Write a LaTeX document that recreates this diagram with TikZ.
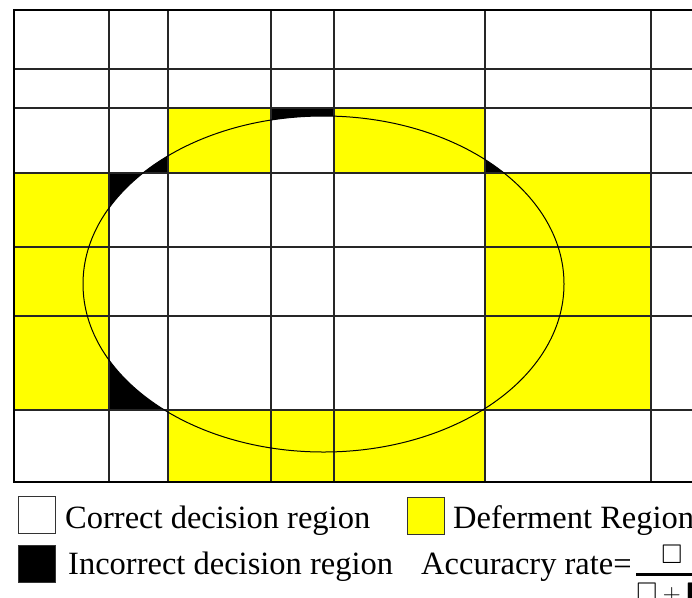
\documentclass[tikz,border=0pt]{standalone}
\usepackage{amsmath}
\usepackage{amssymb}
\usepackage{fontspec}
\setmainfont{Liberation Serif}
\usetikzlibrary{positioning}
\definecolor{dfyellow}{HTML}{FFFF00}

\begin{document}
\begin{tikzpicture}[x=1pt, y=-1pt,
    deferred/.style={fill=dfyellow},
    wrong/.style={fill=black},
    gridline/.style={draw=black!85, line width=1.1pt},
    frame/.style={draw=black, line width=2.6pt},
    bound/.style={draw=black, line width=1pt},
    keybox/.style={draw=black!80, line width=1pt, minimum size=37pt, inner sep=0pt},
    keytext/.style={font=\fontsize{32.5}{39}\selectfont, inner sep=0pt, anchor=base west}
  ]
    \useasboundingbox (0,0) rectangle (692,597);
    % deferment cells
    \fill[deferred] (168,108) rectangle (271,173);
    \fill[deferred] (334,108) rectangle (485,173);
    \fill[deferred] (14,173) rectangle (109,410);
    \fill[deferred] (485,173) rectangle (651,410);
    \fill[deferred] (168,410) rectangle (485,482);
    % incorrect parts of correct cells
    \begin{scope}
      \clip (109,108) rectangle (168,173);
      \fill[wrong] (323.5,284) ellipse [x radius=240.5pt, y radius=168pt];
    \end{scope}
    \begin{scope}
      \clip (485,108) rectangle (651,173);
      \fill[wrong] (323.5,284) ellipse [x radius=240.5pt, y radius=168pt];
    \end{scope}
    \begin{scope}
      \clip (109,173) rectangle (168,247);
      \fill[wrong, even odd rule] (109,173) rectangle (168,247)
        (323.5,284) ellipse [x radius=240.5pt, y radius=168pt];
    \end{scope}
    \begin{scope}
      \clip (109,316) rectangle (168,410);
      \fill[wrong, even odd rule] (109,316) rectangle (168,410)
        (323.5,284) ellipse [x radius=240.5pt, y radius=168pt];
    \end{scope}
    \begin{scope}
      \clip (271,108) rectangle (334,173);
      \fill[wrong, even odd rule] (271,108) rectangle (334,173)
        (323.5,284) ellipse [x radius=240.5pt, y radius=168pt];
    \end{scope}
    % grid
    \foreach \gx in {109,168,271,334,485,651}
      \draw[gridline] (\gx,10) -- (\gx,482);
    \foreach \gy in {69,108,173,247,316,410}
      \draw[gridline] (14,\gy) -- (720,\gy);
    \draw[bound] (323.5,284) ellipse [x radius=240.5pt, y radius=168pt];
    \draw[frame] (720,10) -- (14,10) -- (14,482) -- (720,482);
    % legend
    \node[keybox] (okbox) at (37,514.5) {};
    \node[keytext] (oktext) at (65,528) {Correct decision region};
    \node[keybox, fill=dfyellow] (dfbox) at (426,515.5) {};
    \node[keytext] (dftext) at (453,528) {Deferment Region};
    \node[keybox, fill=black] (badbox) at (37,564) {};
    \node[keytext] (badtext) at (68,574) {Incorrect decision region};
    \node[keytext] (acctext) at (421,574) {Accuracry rate=};
    \node[keytext, font=\fontsize{27}{32}\selectfont, xshift=3pt] (accfrac) at (acctext.base east)
      {\raisebox{-0.25em}{$\genfrac{}{}{2.5pt}{0}{\square}{\square+\blacksquare}$}};
\end{tikzpicture}
\end{document}
